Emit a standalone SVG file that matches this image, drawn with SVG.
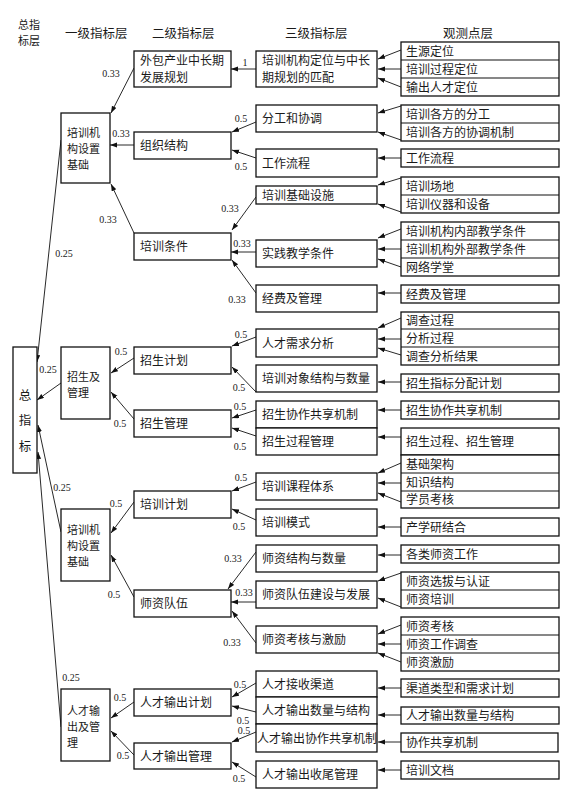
<svg xmlns="http://www.w3.org/2000/svg" width="573" height="806" viewBox="0 0 573 806">
<style>
.bg{fill:#fff}
.box{fill:#fff;stroke:#111;stroke-width:1.3}
.div{stroke:#111;stroke-width:1.1}
.t{font-family:"Noto Sans CJK SC","Noto Sans",sans-serif;font-size:12px;fill:#1a1a1a}
.s{font-family:"Noto Sans CJK SC","Noto Sans",sans-serif;font-size:11px;fill:#1a1a1a}
.h{font-family:"Noto Sans CJK SC","Noto Sans",sans-serif;font-size:12.5px;fill:#1a1a1a}
.n{font-family:"Liberation Serif",serif;font-size:10px;fill:#1a1a1a}
.c line{stroke:#111;stroke-width:0.9;marker-end:url(#a)}
</style>
<defs>
<marker id="a" markerUnits="userSpaceOnUse" markerWidth="8" markerHeight="6" refX="7" refY="2.5" orient="auto">
<path d="M0,0 L7,2.5 L0,5 z" fill="#111"/>
</marker>
</defs>
<rect class="bg" x="0" y="0" width="573" height="806"/>

<g id="headers">
<text class="s" x="18" y="29">总指</text>
<text class="s" x="18" y="45">标层</text>
<text class="h" x="65" y="38">一级指标层</text>
<text class="h" x="152" y="38">二级指标层</text>
<text class="h" x="285" y="38">三级指标层</text>
<text class="h" x="443" y="38">观测点层</text>
</g>

<g id="connectors" class="c">
<line x1="61" y1="140" x2="37" y2="362"/>
<line x1="61" y1="383" x2="37" y2="400"/>
<line x1="61" y1="532" x2="38" y2="425"/>
<line x1="61" y1="727" x2="38" y2="452"/>
<line x1="134" y1="68" x2="111" y2="113"/>
<line x1="134" y1="145" x2="110" y2="145"/>
<line x1="134" y1="233" x2="111" y2="184"/>
<line x1="134" y1="358" x2="111" y2="373"/>
<line x1="134" y1="419" x2="111" y2="392"/>
<line x1="134" y1="502" x2="111" y2="533"/>
<line x1="134" y1="597" x2="111" y2="555"/>
<line x1="134" y1="702" x2="111" y2="718"/>
<line x1="134" y1="755" x2="111" y2="731"/>
<line x1="256" y1="69" x2="231" y2="69"/>
<line x1="256" y1="122" x2="232" y2="132"/>
<line x1="256" y1="158" x2="232" y2="150"/>
<line x1="256" y1="197" x2="232" y2="230"/>
<line x1="256" y1="252" x2="231" y2="252"/>
<line x1="256" y1="293" x2="232" y2="260"/>
<line x1="256" y1="337" x2="232" y2="346"/>
<line x1="256" y1="392" x2="232" y2="367"/>
<line x1="256" y1="410" x2="232" y2="418"/>
<line x1="256" y1="436" x2="232" y2="428"/>
<line x1="256" y1="482" x2="232" y2="491"/>
<line x1="256" y1="520" x2="232" y2="509"/>
<line x1="256" y1="552" x2="228" y2="589"/>
<line x1="256" y1="602" x2="231" y2="602"/>
<line x1="256" y1="643" x2="232" y2="611"/>
<line x1="256" y1="683" x2="232" y2="697"/>
<line x1="256" y1="712" x2="232" y2="706"/>
<line x1="256" y1="732" x2="232" y2="742"/>
<line x1="256" y1="777" x2="232" y2="762"/>
<line x1="401" y1="50" x2="378" y2="59"/>
<line x1="401" y1="69" x2="378" y2="69"/>
<line x1="401" y1="87" x2="378" y2="78"/>
<line x1="401" y1="106" x2="378" y2="113"/>
<line x1="401" y1="140" x2="378" y2="132"/>
<line x1="401" y1="158" x2="378" y2="158"/>
<line x1="401" y1="178" x2="378" y2="185"/>
<line x1="401" y1="212" x2="378" y2="204"/>
<line x1="401" y1="229" x2="378" y2="238"/>
<line x1="401" y1="249" x2="378" y2="249"/>
<line x1="401" y1="267" x2="378" y2="259"/>
<line x1="401" y1="293" x2="378" y2="293"/>
<line x1="401" y1="318" x2="378" y2="328"/>
<line x1="401" y1="339" x2="378" y2="339"/>
<line x1="401" y1="355" x2="378" y2="348"/>
<line x1="401" y1="382" x2="378" y2="382"/>
<line x1="401" y1="410" x2="378" y2="410"/>
<line x1="401" y1="437" x2="378" y2="437"/>
<line x1="401" y1="463" x2="378" y2="473"/>
<line x1="401" y1="483" x2="378" y2="483"/>
<line x1="401" y1="502" x2="378" y2="493"/>
<line x1="401" y1="527" x2="378" y2="527"/>
<line x1="401" y1="555" x2="378" y2="555"/>
<line x1="401" y1="573" x2="378" y2="581"/>
<line x1="401" y1="607" x2="378" y2="598"/>
<line x1="401" y1="625" x2="378" y2="634"/>
<line x1="401" y1="644" x2="378" y2="644"/>
<line x1="401" y1="662" x2="378" y2="653"/>
<line x1="401" y1="688" x2="378" y2="688"/>
<line x1="401" y1="715" x2="378" y2="715"/>
<line x1="401" y1="742" x2="378" y2="742"/>
<line x1="401" y1="770" x2="378" y2="770"/>
</g>

<g id="weights">
<text class="n" x="245" y="65.5" text-anchor="middle">1</text>
<text class="n" x="111" y="76.5" text-anchor="middle">0.33</text>
<text class="n" x="121" y="136.5" text-anchor="middle">0.33</text>
<text class="n" x="241" y="121.5" text-anchor="middle">0.5</text>
<text class="n" x="241" y="169.5" text-anchor="middle">0.5</text>
<text class="n" x="108" y="222.5" text-anchor="middle">0.33</text>
<text class="n" x="64" y="256.5" text-anchor="middle">0.25</text>
<text class="n" x="230" y="211.5" text-anchor="middle">0.33</text>
<text class="n" x="242" y="246.5" text-anchor="middle">0.33</text>
<text class="n" x="237" y="302.5" text-anchor="middle">0.33</text>
<text class="n" x="241" y="337.5" text-anchor="middle">0.5</text>
<text class="n" x="121" y="354.5" text-anchor="middle">0.5</text>
<text class="n" x="48" y="372.5" text-anchor="middle">0.25</text>
<text class="n" x="239" y="390.5" text-anchor="middle">0.5</text>
<text class="n" x="240" y="409.5" text-anchor="middle">0.5</text>
<text class="n" x="120" y="426.5" text-anchor="middle">0.5</text>
<text class="n" x="240" y="449.5" text-anchor="middle">0.5</text>
<text class="n" x="62" y="490.5" text-anchor="middle">0.25</text>
<text class="n" x="241" y="480.5" text-anchor="middle">0.5</text>
<text class="n" x="116" y="506.5" text-anchor="middle">0.5</text>
<text class="n" x="239" y="529.5" text-anchor="middle">0.5</text>
<text class="n" x="233" y="561.5" text-anchor="middle">0.33</text>
<text class="n" x="244" y="595.5" text-anchor="middle">0.33</text>
<text class="n" x="114" y="597.5" text-anchor="middle">0.5</text>
<text class="n" x="232" y="645.5" text-anchor="middle">0.33</text>
<text class="n" x="71" y="680.5" text-anchor="middle">0.25</text>
<text class="n" x="120" y="700.5" text-anchor="middle">0.5</text>
<text class="n" x="240" y="687.5" text-anchor="middle">0.5</text>
<text class="n" x="243" y="723.5" text-anchor="middle">0.5</text>
<text class="n" x="244" y="733.5" text-anchor="middle">0.5</text>
<text class="n" x="123" y="758.5" text-anchor="middle">0.5</text>
<text class="n" x="239" y="781.5" text-anchor="middle">0.5</text>
</g>

<g id="root">
<rect class="box" x="13" y="347" width="24" height="126"/>
<text class="h" x="25" y="400" text-anchor="middle">总</text>
<text class="h" x="25" y="425" text-anchor="middle">指</text>
<text class="h" x="25" y="451" text-anchor="middle">标</text>
</g>

<g id="l1-jigou1">
<rect class="box" x="61" y="113" width="49" height="70"/>
<text class="s" x="67" y="137">培训机</text>
<text class="s" x="67" y="153">构设置</text>
<text class="s" x="67" y="169">基础</text>
</g>
<g id="l1-zhaosheng">
<rect class="box" x="61" y="347" width="49" height="72"/>
<text class="s" x="67" y="381">招生及</text>
<text class="s" x="67" y="397">管理</text>
</g>
<g id="l1-jigou2">
<rect class="box" x="61" y="509" width="49" height="72"/>
<text class="s" x="67" y="534">培训机</text>
<text class="s" x="67" y="550">构设置</text>
<text class="s" x="67" y="566">基础</text>
</g>
<g id="l1-shuchu">
<rect class="box" x="61" y="689" width="49" height="72"/>
<text class="s" x="67" y="715">人才输</text>
<text class="s" x="67" y="731">出及管</text>
<text class="s" x="67" y="747">理</text>
</g>

<g id="l2-waibao">
<rect class="box" x="134" y="51" width="97" height="36"/>
<text class="t" x="140" y="65">外包产业中长期</text>
<text class="t" x="140" y="82">发展规划</text>
</g>
<g id="l2-zuzhi"><rect class="box" x="134" y="132" width="97" height="27"/><text class="t" x="140" y="150">组织结构</text></g>
<g id="l2-tiaojian"><rect class="box" x="134" y="233" width="97" height="27"/><text class="t" x="140" y="251">培训条件</text></g>
<g id="l2-zsjihua"><rect class="box" x="134" y="347" width="97" height="27"/><text class="t" x="140" y="365">招生计划</text></g>
<g id="l2-zsguanli"><rect class="box" x="134" y="410" width="97" height="27"/><text class="t" x="140" y="428">招生管理</text></g>
<g id="l2-pxjihua"><rect class="box" x="134" y="491" width="97" height="27"/><text class="t" x="140" y="509">培训计划</text></g>
<g id="l2-shizi"><rect class="box" x="134" y="590" width="97" height="27"/><text class="t" x="140" y="608">师资队伍</text></g>
<g id="l2-scjihua"><rect class="box" x="134" y="689" width="97" height="27"/><text class="t" x="140" y="707">人才输出计划</text></g>
<g id="l2-scguanli"><rect class="box" x="134" y="743" width="97" height="26"/><text class="t" x="140" y="760.5">人才输出管理</text></g>

<g id="l3-dingwei">
<rect class="box" x="256" y="51" width="121" height="36"/>
<text class="t" x="262" y="65">培训机构定位与中长</text>
<text class="t" x="262" y="82">期规划的匹配</text>
</g>
<g id="l3-fengong"><rect class="box" x="256" y="105" width="121" height="27"/><text class="t" x="262" y="123">分工和协调</text></g>
<g id="l3-liucheng"><rect class="box" x="256" y="149" width="121" height="28"/><text class="t" x="262" y="167.5">工作流程</text></g>
<g id="l3-sheshi"><rect class="box" x="256" y="186" width="121" height="18"/><text class="t" x="262" y="199.5">培训基础设施</text></g>
<g id="l3-shijian"><rect class="box" x="256" y="240" width="121" height="27"/><text class="t" x="262" y="258">实践教学条件</text></g>
<g id="l3-jingfei"><rect class="box" x="256" y="285" width="121" height="27"/><text class="t" x="262" y="303">经费及管理</text></g>
<g id="l3-xuqiu"><rect class="box" x="256" y="329" width="121" height="28"/><text class="t" x="262" y="347.5">人才需求分析</text></g>
<g id="l3-duixiang"><rect class="box" x="256" y="365" width="121" height="27"/><text class="t" x="262" y="383">培训对象结构与数量</text></g>
<g id="l3-zsxiezuo"><rect class="box" x="256" y="401" width="121" height="27"/><text class="t" x="262" y="419">招生协作共享机制</text></g>
<g id="l3-zsguocheng"><rect class="box" x="256" y="428" width="121" height="27"/><text class="t" x="262" y="446">招生过程管理</text></g>
<g id="l3-kecheng"><rect class="box" x="256" y="473" width="121" height="27"/><text class="t" x="262" y="491">培训课程体系</text></g>
<g id="l3-moshi"><rect class="box" x="256" y="509" width="121" height="27"/><text class="t" x="262" y="527">培训模式</text></g>
<g id="l3-szjiegou"><rect class="box" x="256" y="545" width="121" height="27"/><text class="t" x="262" y="563">师资结构与数量</text></g>
<g id="l3-szjianshe"><rect class="box" x="256" y="581" width="121" height="27"/><text class="t" x="262" y="599">师资队伍建设与发展</text></g>
<g id="l3-szkaohe"><rect class="box" x="256" y="626" width="121" height="27"/><text class="t" x="262" y="644">师资考核与激励</text></g>
<g id="l3-jieshou"><rect class="box" x="256" y="671" width="121" height="26"/><text class="t" x="262" y="688.5">人才接收渠道</text></g>
<g id="l3-scshuliang"><rect class="box" x="256" y="697" width="121" height="27"/><text class="t" x="262" y="715">人才输出数量与结构</text></g>
<g id="l3-scxiezuo"><rect class="box" x="256" y="724" width="121" height="28"/><text class="t" x="257" y="742.5">人才输出协作共享机制</text></g>
<g id="l3-shouwei"><rect class="box" x="256" y="761" width="121" height="27"/><text class="t" x="262" y="779">人才输出收尾管理</text></g>

<g id="obs-1">
<rect class="box" x="401" y="42" width="158" height="54"/>
<line class="div" x1="401" y1="60" x2="559" y2="60"/><line class="div" x1="401" y1="78" x2="559" y2="78"/>
<text class="t" x="406" y="55.5">生源定位</text><text class="t" x="406" y="73.5">培训过程定位</text><text class="t" x="406" y="91.5">输出人才定位</text>
</g>
<g id="obs-2">
<rect class="box" x="401" y="105" width="158" height="36"/>
<line class="div" x1="401" y1="123" x2="559" y2="123"/>
<text class="t" x="406" y="118.5">培训各方的分工</text><text class="t" x="406" y="136.5">培训各方的协调机制</text>
</g>
<g id="obs-3"><rect class="box" x="401" y="149" width="158" height="18"/><text class="t" x="406" y="162.5">工作流程</text></g>
<g id="obs-4">
<rect class="box" x="401" y="177" width="158" height="36"/>
<line class="div" x1="401" y1="195" x2="559" y2="195"/>
<text class="t" x="406" y="190.5">培训场地</text><text class="t" x="406" y="208.5">培训仪器和设备</text>
</g>
<g id="obs-5">
<rect class="box" x="401" y="222" width="158" height="54"/>
<line class="div" x1="401" y1="240" x2="559" y2="240"/><line class="div" x1="401" y1="258" x2="559" y2="258"/>
<text class="t" x="406" y="235.5">培训机构内部教学条件</text><text class="t" x="406" y="253.5">培训机构外部教学条件</text><text class="t" x="406" y="271.5">网络学堂</text>
</g>
<g id="obs-6"><rect class="box" x="401" y="285" width="158" height="18"/><text class="t" x="406" y="298.5">经费及管理</text></g>
<g id="obs-7">
<rect class="box" x="401" y="312" width="158" height="53"/>
<line class="div" x1="401" y1="329" x2="559" y2="329"/><line class="div" x1="401" y1="347" x2="559" y2="347"/>
<text class="t" x="406" y="325">调查过程</text><text class="t" x="406" y="342.5">分析过程</text><text class="t" x="406" y="360.5">调查分析结果</text>
</g>
<g id="obs-8"><rect class="box" x="401" y="374" width="158" height="18"/><text class="t" x="406" y="387.5">招生指标分配计划</text></g>
<g id="obs-9"><rect class="box" x="401" y="401" width="158" height="18"/><text class="t" x="406" y="414.5">招生协作共享机制</text></g>
<g id="obs-10"><rect class="box" x="401" y="428" width="158" height="27"/><text class="t" x="406" y="446">招生过程、招生管理</text></g>
<g id="obs-11">
<rect class="box" x="401" y="455" width="158" height="53"/>
<line class="div" x1="401" y1="473" x2="559" y2="473"/><line class="div" x1="401" y1="491" x2="559" y2="491"/>
<text class="t" x="406" y="468.5">基础架构</text><text class="t" x="406" y="486.5">知识结构</text><text class="t" x="406" y="504">学员考核</text>
</g>
<g id="obs-12"><rect class="box" x="401" y="518" width="158" height="18"/><text class="t" x="406" y="531.5">产学研结合</text></g>
<g id="obs-13"><rect class="box" x="401" y="545" width="158" height="18"/><text class="t" x="406" y="558.5">各类师资工作</text></g>
<g id="obs-14">
<rect class="box" x="401" y="572" width="158" height="36"/>
<line class="div" x1="401" y1="590" x2="559" y2="590"/>
<text class="t" x="406" y="585.5">师资选拔与认证</text><text class="t" x="406" y="603.5">师资培训</text>
</g>
<g id="obs-15">
<rect class="box" x="401" y="617" width="158" height="54"/>
<line class="div" x1="401" y1="635" x2="559" y2="635"/><line class="div" x1="401" y1="653" x2="559" y2="653"/>
<text class="t" x="406" y="630.5">师资考核</text><text class="t" x="406" y="648.5">师资工作调查</text><text class="t" x="406" y="666.5">师资激励</text>
</g>
<g id="obs-16"><rect class="box" x="401" y="679" width="158" height="18"/><text class="t" x="406" y="692.5">渠道类型和需求计划</text></g>
<g id="obs-17"><rect class="box" x="401" y="707" width="158" height="17"/><text class="t" x="406" y="720">人才输出数量与结构</text></g>
<g id="obs-18"><rect class="box" x="401" y="733" width="157" height="19"/><text class="t" x="406" y="747">协作共享机制</text></g>
<g id="obs-19"><rect class="box" x="401" y="761" width="158" height="18"/><text class="t" x="406" y="774.5">培训文档</text></g>
</svg>
